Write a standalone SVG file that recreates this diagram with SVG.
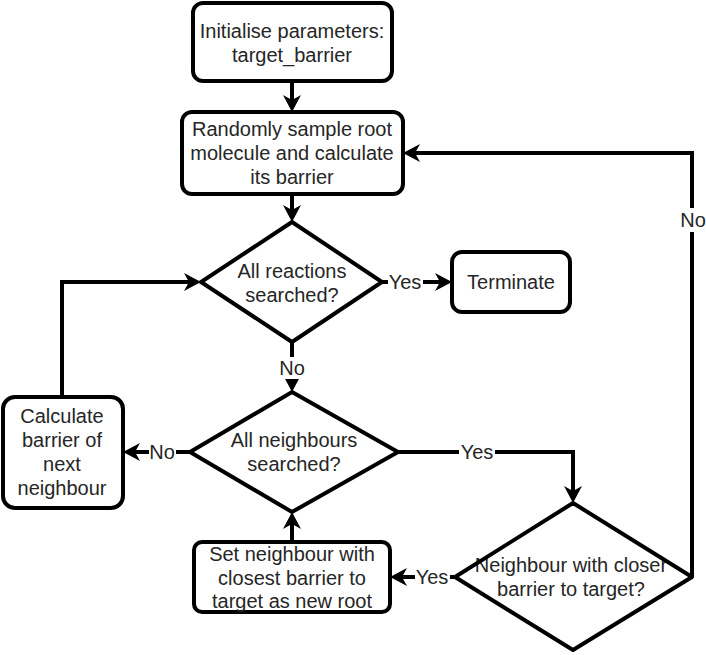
<svg xmlns="http://www.w3.org/2000/svg" width="706" height="655" viewBox="0 0 706 655">
<defs>
<marker id="arr" markerUnits="userSpaceOnUse" viewBox="0 0 20 20" markerWidth="20" markerHeight="20" refX="10" refY="10" orient="auto">
<path d="M1,1 L18,10 L1,19 L6,10 Z" fill="#000"/>
</marker>
<style>
.n{fill:#fff;stroke:#000;stroke-width:4}
.t{font-family:"Liberation Sans",Arial,sans-serif;font-size:20px;fill:#262626;text-anchor:middle}
.c{fill:none;stroke:#000;stroke-width:4;stroke-linejoin:miter;marker-end:url(#arr)}
.lb{fill:#fff}
</style>
</defs>
<rect width="706" height="655" fill="#fff"/>
<g id="connectors">
<path class="c" d="M292,81 L292,104"/>
<path class="c" d="M292,194 L292,214"/>
<path class="c" d="M382,282 L444,282"/>
<path class="c" d="M292,342 L292,384"/>
<path class="c" d="M190,452 L131,452"/>
<path class="c" d="M62,397 L62,282 L193,282"/>
<path class="c" d="M398,452 L573,452 L573,495"/>
<path class="c" d="M455,577 L398,577"/>
<path class="c" d="M292,542 L292,520"/>
<path class="c" d="M692,577 L692,153 L411,153"/>
<rect class="lb" x="388" y="272" width="35" height="20"/>
<text class="t" x="405" y="289">Yes</text>
<rect class="lb" x="279" y="357" width="27" height="22"/>
<text class="t" x="292" y="375">No</text>
<rect class="lb" x="149" y="442" width="27" height="20"/>
<text class="t" x="162" y="459">No</text>
<rect class="lb" x="459" y="442" width="36" height="20"/>
<text class="t" x="477" y="459">Yes</text>
<rect class="lb" x="415" y="567" width="35" height="20"/>
<text class="t" x="432" y="584">Yes</text>
<rect class="lb" x="679" y="208" width="27" height="24"/>
<text class="t" x="693" y="227">No</text>
</g>
<g id="init">
<rect class="n" x="193" y="3" width="199" height="78" rx="10"/>
<text class="t" x="292" y="38">Initialise parameters:</text>
<text class="t" x="292" y="62">target_barrier</text>
</g>
<g id="sample">
<rect class="n" x="182" y="112" width="221" height="82" rx="10"/>
<text class="t" x="292" y="136">Randomly sample root</text>
<text class="t" x="292" y="160">molecule and calculate</text>
<text class="t" x="292" y="184">its barrier</text>
</g>
<g id="reactions">
<path class="n" d="M292,222 L382,282 L292,342 L201,282 Z"/>
<text class="t" x="292" y="278">All reactions</text>
<text class="t" x="292" y="302">searched?</text>
</g>
<g id="terminate">
<rect class="n" x="452" y="252" width="118" height="60" rx="10"/>
<text class="t" x="511" y="289">Terminate</text>
</g>
<g id="neighbours">
<path class="n" d="M292,392 L398,452 L292,512 L190,452 Z"/>
<text class="t" x="294" y="447">All neighbours</text>
<text class="t" x="294" y="471">searched?</text>
</g>
<g id="calculate">
<rect class="n" x="3" y="397" width="120" height="111" rx="12"/>
<text class="t" x="62" y="423">Calculate</text>
<text class="t" x="62" y="447">barrier of</text>
<text class="t" x="62" y="471">next</text>
<text class="t" x="62" y="495">neighbour</text>
</g>
<g id="setroot">
<rect class="n" x="194" y="542" width="196" height="70" rx="8"/>
<text class="t" x="292" y="561">Set neighbour with</text>
<text class="t" x="292" y="585">closest barrier to</text>
<text class="t" x="292" y="608">target as new root</text>
</g>
<g id="closer">
<path d="M573,503 L692,577 L573,650 L455,577 Z" fill="#fff"/>
<text class="t" x="571" y="572">Neighbour with closer</text>
<text class="t" x="571" y="596">barrier to target?</text>
<path d="M573,503 L692,577 L573,650 L455,577 Z" fill="none" stroke="#000" stroke-width="4" stroke-linejoin="round"/>
</g>
</svg>
